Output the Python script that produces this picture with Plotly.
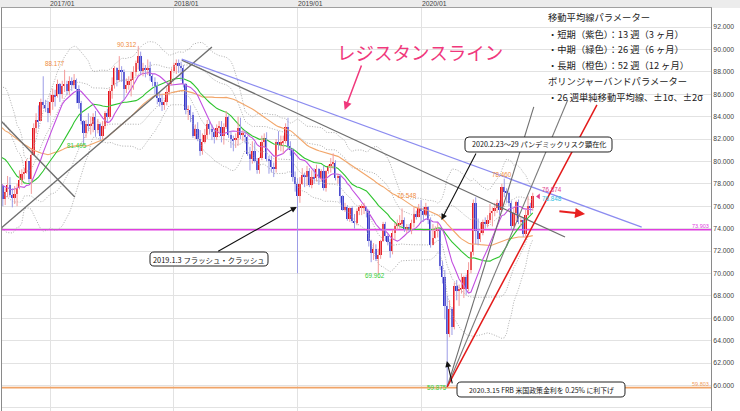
import pandas as pd
import numpy as np
import plotly.graph_objects as go

# ---------------- data ----------------
FIRST_WEEK = "2016-08-15"

# 52 weekly closes before the first visible candle (only used to warm up the averages)
warmup_closes = [89.1, 86.8, 82.5, 85.7, 86.2, 84.7, 84.5, 87.9, 86.6, 87.4, 86.0, 86.7, 87.0,
                 88.8, 88.8, 90.1, 87.2, 87.0, 87.1, 87.6, 81.9, 80.3, 83.0, 85.7, 82.5, 80.6,
                 80.4, 81.1, 84.2, 85.4, 85.0, 85.2, 85.4, 81.6, 83.8, 86.1, 80.8, 78.9, 79.0,
                 79.5, 79.1, 78.6, 78.9, 77.2, 76.0, 77.1, 76.2, 79.6, 79.4, 77.6, 78.0, 77.8]

closes = [
    # 2016
    76.6, 77.3, 77.9, 77.0, 76.7, 77.1, 77.6, 78.3, 78.9, 79.0, 80.0, 78.4, 80.6, 83.0, 83.7, 83.6,
    85.3, 85.0, 84.8, 84.3,
    # 2017
    85.3, 85.9, 85.8, 86.9, 86.0, 86.7, 86.9, 86.3, 87.2, 86.8, 87.3, 86.5, 85.2, 83.6, 82.5, 83.3,
    83.2, 83.3, 84.0, 82.8, 83.3, 82.3, 83.2, 84.3, 84.0, 86.3, 86.8, 88.3, 87.3, 88.2, 88.0, 86.5,
    86.8, 87.2, 87.3, 88.0, 88.8, 89.4, 88.1, 88.3, 88.2, 88.3, 87.6, 87.1, 86.7, 85.7, 85.3, 85.0,
    85.3, 86.2, 86.9, 88.1,
    # 2018
    88.6, 88.8, 88.5, 88.3, 86.9, 84.6, 84.6, 84.1, 82.3, 82.9, 82.0, 80.9, 81.7, 82.4, 83.3, 82.9,
    82.6, 82.2, 83.0, 83.1, 82.3, 83.1, 84.0, 82.4, 82.0, 81.9, 82.1, 83.0, 82.4, 82.4, 82.2, 80.7,
    80.2, 80.9, 80.0, 79.2, 80.3, 81.7, 82.1, 80.2, 80.1, 79.5, 79.3, 81.7, 81.5, 81.7, 81.8, 83.1,
    81.4, 81.0, 78.6, 78.0, 76.9,
    # 2019
    78.0, 78.8, 78.6, 79.1, 77.9, 78.6, 78.5, 79.3, 78.5, 79.1, 77.6, 79.1, 79.6, 79.8, 79.9, 78.5,
    78.7, 76.9, 75.7, 75.9, 74.9, 75.8, 74.7, 74.5, 75.6, 75.9, 75.9, 75.9, 75.6, 72.9, 71.8, 72.2,
    71.3, 71.6, 72.9, 74.4, 73.3, 72.8, 72.0, 73.6, 74.2, 74.4, 74.4, 74.8, 74.0, 74.1, 74.0, 74.5,
    75.3, 75.0, 75.8, 75.6,
    # 2020
    75.2, 75.9, 74.8, 72.5, 73.2, 73.8, 73.9, 70.7, 69.7, 67.1, 64.6, 66.8, 65.2, 68.9, 68.4, 68.6,
    68.6, 69.7, 68.6, 70.3, 71.9, 76.3, 73.8, 73.1, 73.6, 74.6, 74.4, 74.8, 75.4, 75.6, 75.8, 76.3,
    75.7, 77.7, 77.3, 77.2, 76.3, 74.2, 75.4, 76.4, 74.6, 74.8, 73.5, 75.2, 76.0, 75.8, 76.874,
]
highs = [
    77.9, 77.6, 78.7, 78.6, 77.6, 77.8, 78.0, 79.2, 79.3, 79.4, 80.2, 80.0, 81.2, 83.4, 84.3, 85.0,
    85.6, 87.6, 85.5, 85.4,
    86.0, 86.5, 86.4, 87.3, 87.0, 87.2, 88.177, 87.2, 87.6, 87.5, 87.8, 87.4, 86.8, 85.4, 83.7, 83.7,
    84.3, 84.0, 84.3, 84.5, 83.8, 83.4, 83.6, 84.5, 84.7, 86.5, 87.5, 88.5, 88.4, 89.4, 88.5, 88.2,
    87.4, 87.6, 88.0, 88.5, 89.0, 90.312, 89.8, 88.8, 88.6, 89.1, 88.9, 87.8, 87.5, 87.1, 86.2, 86.0,
    85.5, 86.6, 87.2, 88.3,
    88.8, 89.1, 89.1, 88.9, 88.6, 87.0, 85.0, 85.0, 84.4, 83.3, 83.5, 82.8, 82.5, 82.9, 83.7, 83.7,
    83.3, 82.9, 83.3, 83.6, 83.6, 83.4, 84.5, 84.1, 82.7, 82.3, 82.5, 84.0, 83.9, 82.8, 82.8, 82.3,
    81.3, 81.8, 81.7, 80.3, 80.4, 82.3, 82.5, 82.6, 80.5, 80.5, 79.9, 82.0, 82.7, 82.3, 82.3, 83.4,
    83.9, 81.8, 81.2, 79.1, 78.5,
    78.6, 79.4, 79.0, 79.6, 79.4, 79.2, 79.4, 79.7, 79.4, 79.3, 79.6, 79.2, 79.7, 80.3, 80.72, 80.1,
    78.9, 78.8, 77.0, 76.3, 76.1, 75.9, 76.0, 75.3, 75.8, 76.1, 76.2, 76.3, 76.0, 75.7, 73.0, 72.7,
    72.6, 72.2, 73.0, 74.6, 74.6, 73.5, 73.1, 73.9, 74.5, 74.8, 75.2, 75.8, 75.0, 74.4, 74.4, 74.8,
    75.9, 75.6, 76.2, 76.548,
    75.9, 76.3, 76.0, 75.0, 74.4, 74.2, 74.5, 74.0, 71.1, 70.3, 68.0, 67.6, 67.0, 69.2, 69.4, 69.0,
    70.0, 69.8, 69.9, 71.0, 72.0, 76.6, 76.8, 74.9, 74.5, 74.8, 75.0, 75.2, 76.2, 75.9, 76.3, 76.6,
    76.5, 78.0, 78.46, 77.6, 77.3, 76.5, 75.8, 76.5, 76.6, 75.0, 75.0, 75.7, 76.9, 76.3, 77.2,
]
lows = [
    76.0, 76.1, 76.8, 76.8, 75.9, 76.2, 76.0, 77.5, 77.9, 78.4, 78.9, 78.1, 77.1, 80.5, 82.5, 83.0,
    83.6, 84.7, 84.4, 83.5,
    84.1, 84.6, 84.9, 85.7, 85.3, 85.6, 86.2, 85.9, 85.9, 86.3, 86.5, 85.2, 84.7, 83.3, 81.495, 82.1,
    82.7, 82.4, 82.6, 82.2, 82.5, 81.9, 82.0, 82.9, 83.5, 83.8, 85.6, 86.5, 86.7, 87.1, 87.1, 85.5,
    86.1, 86.4, 85.8, 86.4, 87.6, 88.2, 87.8, 87.6, 87.5, 87.7, 87.2, 86.7, 86.0, 85.1, 84.9, 84.5,
    84.6, 85.0, 85.9, 86.8,
    87.9, 87.8, 87.9, 87.2, 86.6, 84.2, 83.7, 83.5, 82.1, 82.0, 81.8, 80.5, 80.6, 81.6, 82.0, 82.4,
    81.9, 81.6, 81.9, 82.6, 81.7, 81.5, 82.9, 82.1, 81.2, 80.9, 81.2, 81.4, 82.0, 81.8, 81.6, 80.5,
    79.2, 79.8, 79.9, 78.9, 78.9, 80.1, 81.2, 80.0, 78.9, 79.0, 78.6, 79.0, 81.0, 80.9, 80.7, 81.6,
    81.1, 80.5, 78.2, 77.3, 70.0,
    76.3, 77.9, 77.7, 77.8, 77.7, 77.6, 78.0, 78.2, 77.9, 78.2, 77.4, 77.3, 78.9, 79.0, 79.3, 78.3,
    78.0, 76.3, 75.6, 75.5, 74.7, 74.6, 74.5, 74.0, 74.3, 75.2, 75.2, 75.3, 75.0, 72.4, 71.0, 71.2,
    71.1, 69.962, 71.3, 72.8, 72.9, 72.5, 71.4, 71.7, 73.0, 73.9, 74.0, 74.2, 73.7, 73.6, 73.7, 73.5,
    74.1, 74.8, 75.0, 74.6,
    74.6, 75.1, 74.4, 72.3, 72.5, 73.1, 73.2, 70.3, 69.1, 65.9, 59.875, 64.3, 64.5, 65.0, 67.6, 67.1,
    68.2, 67.8, 68.1, 68.4, 70.0, 71.6, 72.6, 72.5, 72.8, 73.4, 74.0, 74.1, 74.5, 74.2, 75.1, 75.4,
    75.2, 75.6, 76.8, 76.3, 76.0, 73.9, 74.1, 74.7, 74.4, 74.1, 73.25, 73.3, 75.1, 75.3, 75.6,
]

year_ticks = ["2017-01-01", "2018-01-01", "2019-01-01", "2020-01-01"]
year_labels = ["2017/01", "2018/01", "2019/01", "2020/01"]
price_ticks = list(range(58, 93, 2))

support_level = 73.903
floor_level = 59.803

# hand-drawn trend lines: (start date, end date), (start value, end value)
line_x_down_dates, line_x_down_vals = ["2016-08-07", "2017-03-15"], [83.7, 76.82]
line_x_up_dates, line_x_up_vals = ["2016-08-07", "2018-04-23"], [73.96, 90.21]
line_2018_dates, line_2018_vals = ["2018-01-24", "2021-02-26"], [89.05, 73.25]
resist_dates, resist_vals = ["2018-01-24", "2021-10-10"], [89.14, 74.14]
fan_a_dates, fan_a_vals = ["2020-03-16", "2020-11-26"], [59.875, 84.86]
fan_b_dates, fan_b_vals = ["2020-03-16", "2021-03-06"], [59.875, 85.48]
fan_red_dates, fan_red_vals = ["2020-03-16", "2021-05-31"], [59.875, 85.04]

# high/low labels: (date, value, text, color)
price_labels = [
    ("2017-08-15", 90.48, "90.312", "#f08c3c"),
    ("2017-01-16", 88.70, "88.177", "#f08c3c"),
    ("2017-03-21", 81.38, "81.495", "#33cc33"),
    ("2019-11-20", 77.00, "76.548", "#f08c3c"),
    ("2020-08-23", 78.79, "78.460", "#f08c3c"),
    ("2019-08-15", 69.77, "69.962", "#33cc33"),
    ("2020-02-14", 59.77, "59.875", "#33cc33"),
    ("2021-01-18", 77.45, "76.874", "#e0408a"),
    ("2021-01-18", 76.73, "76.848", "#30c0e0"),
]

legend_lines = [
    "移動平均線パラメーター",
    "・短期（紫色）：13 週（3 ヶ月）",
    "・中期（緑色）：26 週（6 ヶ月）",
    "・長期（橙色）：52 週（12 ヶ月）",
    "ボリンジャーバンドパラメーター",
    "・26 週単純移動平均線、±1σ、±2σ",
]

# ---------------- derived ----------------
dates = pd.date_range(FIRST_WEEK, periods=len(closes), freq="7D")
warm_dates = pd.date_range(end=dates[0] - pd.Timedelta(days=7), periods=len(warmup_closes), freq="7D")
opens = [warmup_closes[-1]] + closes[:-1]
hi = [max(h, o, c) for h, o, c in zip(highs, opens, closes)]
lo = [min(l, o, c) for l, o, c in zip(lows, opens, closes)]

all_dates = warm_dates.append(dates)
s = pd.Series(warmup_closes + closes, index=all_dates)
ma13 = s.rolling(13).mean()
ma26 = s.rolling(26).mean()
ma52 = s.rolling(52).mean()
sd26 = s.rolling(26).std(ddof=0)

X0 = pd.Timestamp("2016-08-12 14:00")
X1 = pd.Timestamp("2022-05-02")
Y0, Y1 = 57.714, 93.696

W, H = 740, 411
ML, MR, MT, MB = 2, 29, 8, 0
PW, PH = W - ML - MR, H - MT - MB


def px(x):
    return (x - ML) / PW


def py(y):
    return 1 - (y - MT) / PH


fig = go.Figure()

# horizontal levels
fig.add_trace(go.Scatter(x=[X0, X1], y=[support_level] * 2, mode="lines",
                         line=dict(color="#e03ee0", width=1.6), hoverinfo="skip"))
fig.add_trace(go.Scatter(x=[X0, X1], y=[floor_level] * 2, mode="lines",
                         line=dict(color="#f0a468", width=1.6), hoverinfo="skip"))

# Bollinger bands
for k in (2, 1, -1, -2):
    fig.add_trace(go.Scatter(x=all_dates, y=ma26 + k * sd26, mode="lines",
                             line=dict(color="#a4a4a4", width=0.9, dash="1px,1.6px"), hoverinfo="skip"))

# moving averages
fig.add_trace(go.Scatter(x=all_dates, y=ma52, mode="lines", line=dict(color="#f2a66a", width=1.1)))
fig.add_trace(go.Scatter(x=all_dates, y=ma26, mode="lines", line=dict(color="#2ec42e", width=1.1)))
fig.add_trace(go.Scatter(x=all_dates, y=ma13, mode="lines", line=dict(color="#c24ee0", width=1.1)))

# candles: wicks
up_x, up_y, dn_x, dn_y = [], [], [], []
for d, o, c, h, l in zip(dates, opens, closes, hi, lo):
    if c >= o:
        up_x += [d, d, None]; up_y += [l, h, None]
    else:
        dn_x += [d, d, None]; dn_y += [l, h, None]
fig.add_trace(go.Scatter(x=up_x, y=up_y, mode="lines", line=dict(color="#f39a9a", width=1), hoverinfo="skip"))
fig.add_trace(go.Scatter(x=dn_x, y=dn_y, mode="lines", line=dict(color="#9c9ce6", width=1), hoverinfo="skip"))

# candles: bodies
base = [min(o, c) for o, c in zip(opens, closes)]
height = [max(abs(c - o), 0.07) for o, c in zip(opens, closes)]
colors = ["#e3111b" if c >= o else "#3535c8" for o, c in zip(opens, closes)]
fig.add_trace(go.Bar(x=dates, y=height, base=base, width=5.2 * 86400000,
                     marker=dict(color=colors, line=dict(width=0)), hoverinfo="skip"))

# trend lines
for xs, ys, col, wd in [
    (line_x_down_dates, line_x_down_vals, "#6e6e6e", 1.4),
    (line_x_up_dates, line_x_up_vals, "#6e6e6e", 1.4),
    (line_2018_dates, line_2018_vals, "#6e6e6e", 1.3),
    (resist_dates, resist_vals, "#8c8cf0", 1.3),
    (fan_a_dates, fan_a_vals, "#6e6e6e", 1.1),
    (fan_b_dates, fan_b_vals, "#7a7a7a", 1.1),
    (fan_red_dates, fan_red_vals, "#e31a1a", 1.5),
]:
    fig.add_trace(go.Scatter(x=xs, y=ys, mode="lines", line=dict(color=col, width=wd), hoverinfo="skip"))

# current price pointer
fig.add_trace(go.Scatter(x=["2020-12-10"], y=[closes[-1]], mode="markers",
                         marker=dict(symbol="triangle-left", size=5, color="#e0408a")))

ann = []
jp = "Noto Sans CJK JP"

for d, lab in zip(year_ticks, year_labels):
    ann.append(dict(x=d, y=1, xref="x", yref="paper", yanchor="bottom", xanchor="left", xshift=-2,
                    yshift=-1, text=lab, showarrow=False, font=dict(size=6.8, color="#444", family="Liberation Sans")))

for d, v, t, c in price_labels:
    ann.append(dict(x=d, y=v, xref="x", yref="y", text=t, showarrow=False, xanchor="center", yanchor="middle",
                    font=dict(size=6.3, color=c, family="Liberation Sans")))

ann.append(dict(x=1, y=support_level, xref="paper", yref="y", xanchor="right", yanchor="bottom", yshift=-1.5,
                text="73.903", showarrow=False, font=dict(size=5.5, color="#e03ee0", family="Liberation Sans")))
ann.append(dict(x=1, y=floor_level, xref="paper", yref="y", xanchor="right", yanchor="bottom", yshift=-1.5,
                text="59.803", showarrow=False, font=dict(size=5.5, color="#f0a060", family="Liberation Sans")))

# big pink title + arrow
ann.append(dict(x=px(420), y=py(52), xref="paper", yref="paper", text="レジスタンスライン", showarrow=False,
                xanchor="center", yanchor="middle", font=dict(size=18.5, color="#f0387c", family=jp)))
ann.append(dict(x="2019-05-19", y=84.59, ax="2019-07-09", ay=88.70, xref="x", yref="y", axref="x", ayref="y",
                text="", showarrow=True, arrowhead=2, arrowsize=1.1, arrowwidth=1.5, arrowcolor="#f0387c"))
# red arrow
ann.append(dict(x="2021-04-26", y=75.30, ax="2021-02-05", ay=75.57, xref="x", yref="y", axref="x", ayref="y",
                text="", showarrow=True, arrowhead=2, arrowsize=1.0, arrowwidth=2, arrowcolor="#e82020"))

# legend block
for i, (t, yy) in enumerate(zip(legend_lines, [17, 34, 49, 65, 81, 97])):
    ann.append(dict(x=px(546), y=py(yy), xref="paper", yref="paper", xanchor="left", yanchor="middle",
                    text=t, showarrow=False, font=dict(size=9.3, color="#222", family=jp)))

# callouts (rounded boxes drawn as shapes)
shapes = []


def rbox(x0, y0, x1, y1, r=4):
    pts = lambda a, b: f"{px(a):.5f},{py(b):.5f}"
    return ("M " + pts(x0 + r, y0) + " L " + pts(x1 - r, y0) + " Q " + pts(x1, y0) + " " + pts(x1, y0 + r) +
            " L " + pts(x1, y1 - r) + " Q " + pts(x1, y1) + " " + pts(x1 - r, y1) +
            " L " + pts(x0 + r, y1) + " Q " + pts(x0, y1) + " " + pts(x0, y1 - r) +
            " L " + pts(x0, y0 + r) + " Q " + pts(x0, y0) + " " + pts(x0 + r, y0) + " Z")


callouts = [
    ((150, 252, 268, 266), "2019.1.3 フラッシュ・クラッシュ", 7.4),
    ((465, 137, 612, 152), "2020.2.23～29 パンデミックリスク顕在化", 7.15),
    ((457, 382, 625, 397), "2020.3.15 FRB 米国政策金利を 0.25% に利下げ", 6.9),
]
arrows = [
    (("2018-12-29", 75.93), ("2018-05-07", 71.91)),
    (("2020-02-28", 74.77), ("2020-06-11", 80.84)),
    (("2020-03-15", 62.18), ("2020-04-01", 60.04)),
]
for (head, tail) in arrows:
    ann.append(dict(x=head[0], y=head[1], ax=tail[0], ay=tail[1], xref="x", yref="y", axref="x", ayref="y",
                    text="", showarrow=True, arrowhead=2, arrowsize=1.1, arrowwidth=1.1, arrowcolor="#111"))
for (x0, y0, x1, y1), t, fs in callouts:
    shapes.append(dict(type="path", path=rbox(x0, y0, x1, y1), xref="paper", yref="paper",
                       fillcolor="white", line=dict(color="#222", width=1), layer="above"))
    ann.append(dict(x=px((x0 + x1) / 2), y=py((y0 + y1) / 2), xref="paper", yref="paper", text=t,
                    xanchor="center", yanchor="middle",
                    showarrow=False, font=dict(size=fs, color="#111", family=jp)))

# top strip
shapes.insert(0, dict(type="rect", xref="paper", yref="paper", x0=-0.01, x1=1.05, y0=1, y1=1.03,
                      fillcolor="#ececec", line=dict(width=0), layer="below"))

fig.update_layout(
    width=W, height=H, margin=dict(l=ML, r=MR, t=MT, b=MB),
    paper_bgcolor="white", plot_bgcolor="white", showlegend=False, bargap=0,
    annotations=ann, shapes=shapes,
    xaxis=dict(type="date", range=[X0, X1], tickvals=year_ticks, showticklabels=False, ticks="",
               showgrid=True, gridcolor="#e2e2e2", gridwidth=1, zeroline=False,
               showline=True, linecolor="#a0a0a0", mirror=True, fixedrange=True),
    yaxis=dict(range=[Y0, Y1], side="right", tickvals=price_ticks,
               ticktext=[f"{v:.3f}" for v in price_ticks], ticks="",
               tickfont=dict(size=6.8, color="#444", family="Liberation Sans"),
               showgrid=True, gridcolor="#e2e2e2", gridwidth=1, zeroline=False,
               showline=True, linecolor="#8a8a8a", mirror=True, fixedrange=True),
)

fig.write_html("out.html", config={"displayModeBar": False},
               post_script="document.body.style.margin='0px';document.body.style.padding='0px';")
